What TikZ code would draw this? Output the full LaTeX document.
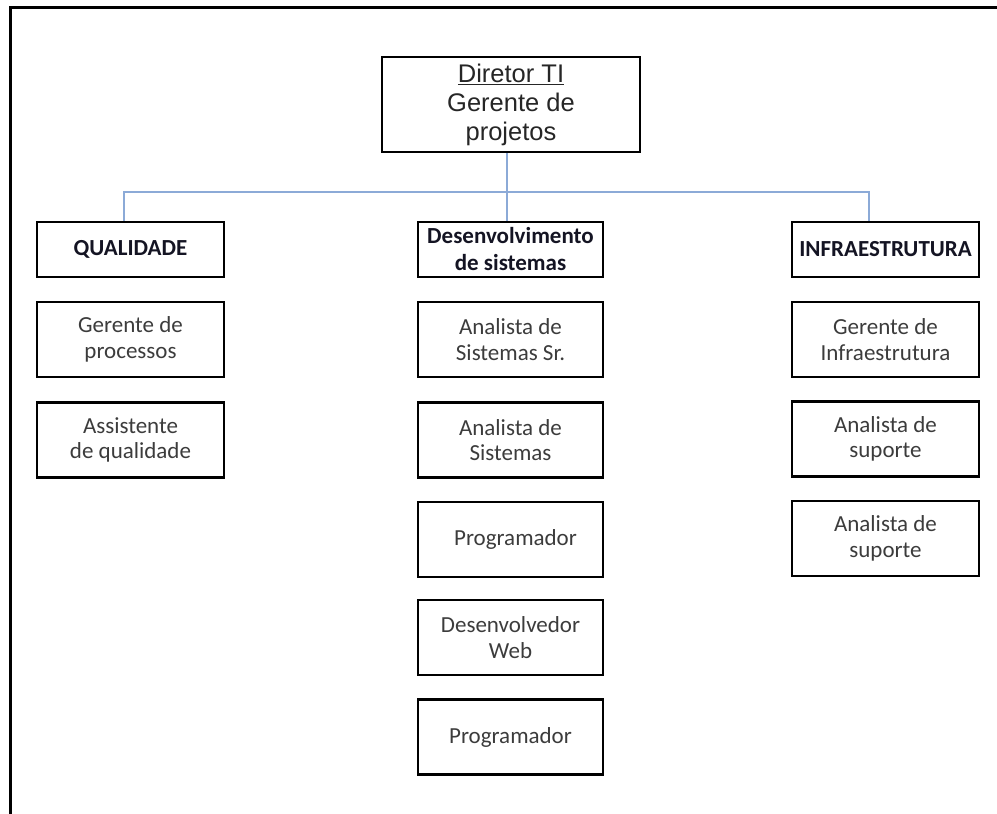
\documentclass[tikz,border=0pt]{standalone}
\usepackage{fontspec}
\setmainfont{Carlito}
\newfontfamily\arialf{Liberation Sans}
\definecolor{busblue}{RGB}{140,170,215}
\definecolor{subtext}{RGB}{60,60,60}
\definecolor{headtext}{RGB}{20,20,35}
\begin{document}
\begin{tikzpicture}[x=1pt,y=-1pt,
  box/.style={draw=black,line width=2.6pt,rectangle,inner sep=0pt,align=center,text=subtext,
    font=\fontsize{23}{25.5}\selectfont},
  headbox/.style={box,minimum height=55pt,text=headtext,font=\fontsize{23}{27}\selectfont\bfseries},
  subbox/.style={box,minimum height=75pt},
  conn/.style={draw=busblue,line width=2pt}]
\useasboundingbox (0,0) rectangle (997,814);
\draw[line width=3pt] (10,820) -- (10,7) -- (1000,7);
% top
\node[box,minimum width=258pt,minimum height=95pt,text=black!85,
  font=\arialf\fontsize{25.5}{29}\selectfont] (top) at (511,104.5)
  {\underline{Diretor TI}\\Gerente de\\projetos};
% headers
\node[headbox,minimum width=187pt] (qual) at (130.5,249.5) {QUALIDADE};
\node[headbox,minimum width=185pt] (dev) at (510.5,249.5) {Desenvolvimento\\de sistemas};
\node[headbox,minimum width=187pt] (infra) at (885.5,249.5) {INFRAESTRUTURA};
% left column
\node[subbox,minimum width=187pt] (q1) at (130.5,339.5) {Gerente de\\processos};
\node[subbox,minimum width=187pt] (q2) at (130.5,440) {Assistente\\de qualidade};
% middle column
\node[subbox,minimum width=185pt] (d1) at (510.5,339.5) {Analista de\\Sistemas Sr.};
\node[subbox,minimum width=185pt] (d2) at (510.5,440) {Analista de\\Sistemas};
\node[subbox,minimum width=185pt] (d3) at (510.5,539.5) {\hspace*{10pt}Programador};
\node[subbox,minimum width=185pt] (d4) at (510.5,637.5) {Desenvolvedor\\Web};
\node[subbox,minimum width=185pt] (d5) at (510.5,737) {Programador};
% right column
\node[subbox,minimum width=187pt] (i1) at (885.5,339.5) {Gerente de\\Infraestrutura};
\node[subbox,minimum width=187pt] (i2) at (885.5,439) {Analista de\\suporte};
\node[subbox,minimum width=187pt] (i3) at (885.5,538.5) {Analista de\\suporte};
% connectors
\coordinate (busL) at (124,192);
\coordinate (busM) at (507,192);
\coordinate (busR) at (869,192);
\draw[conn] (qual.north -| busL) -- (busL) -- (busR) -- (infra.north -| busR);
\draw[conn] (top.south -| busM) -- (dev.north -| busM);
\end{tikzpicture}
\end{document}
